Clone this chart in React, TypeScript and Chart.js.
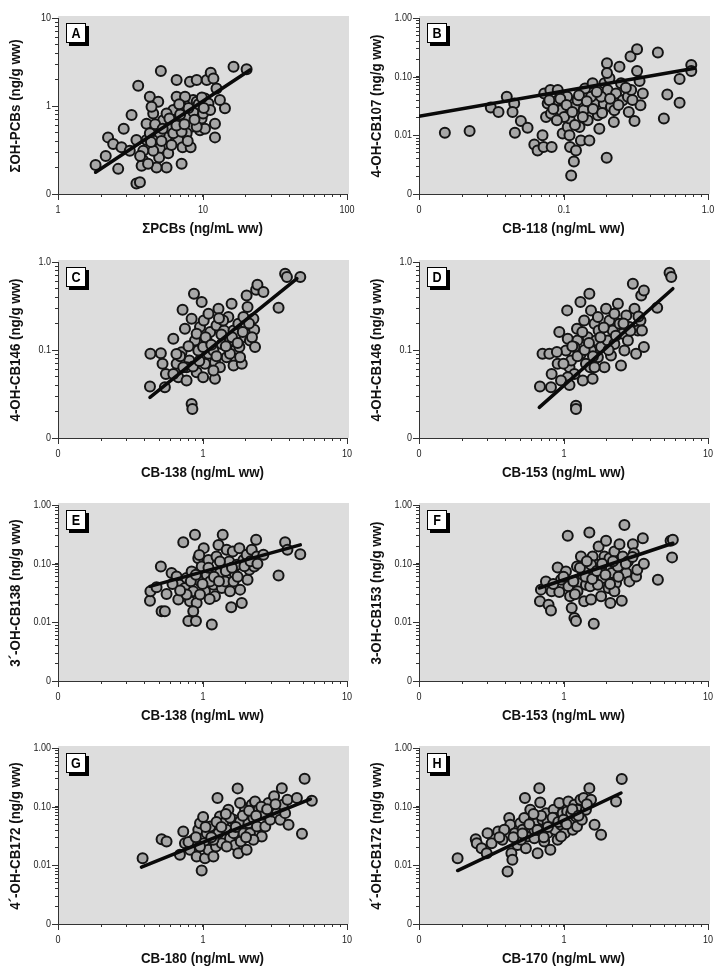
import { useEffect, useRef } from "react";
import { Chart, registerables } from "chart.js";

Chart.register(...registerables);

const FONT = '"Liberation Sans", Arial, Helvetica, sans-serif';

// ---------- data (x, y) ----------
const aPoints = [[1.82,0.214],[2.61,0.193],[2.22,0.44],[2.41,0.37],[2.14,0.27],[2.85,0.55],[2.75,0.34],[3.23,0.79],[3.59,1.70],[3.49,0.132],[3.69,0.136],[3.89,0.24],[3.79,0.21],[4.10,0.41],[4.32,1.27],[4.56,0.82],[4.94,1.12],[5.15,2.5],[4.81,0.53],[5.07,0.33],[5.01,0.26],[5.35,0.69],[5.64,0.44],[5.79,0.29],[6.28,0.90],[5.95,0.58],[6.62,1.97],[6.62,1.27],[6.80,0.41],[7.17,0.22],[7.28,0.34],[6.98,0.63],[7.17,0.98],[7.77,0.75],[8.19,1.89],[8.28,0.34],[8.41,0.58],[8.63,1.17],[9.12,1.97],[9.61,0.90],[9.86,0.72],[9.61,0.53],[10.4,0.55],[10.7,1.97],[10.4,1.22],[11.0,1.07],[11.4,2.39],[11.9,2.06],[12.2,0.63],[12.2,0.44],[12.5,1.58],[14.3,0.94],[16.4,2.8],[20.2,2.61],[4.44,0.98],[4.10,0.63],[4.32,0.49],[4.56,0.31],[5.64,0.82],[6.28,0.49],[7.77,0.49],[7.57,1.27],[9.12,0.58],[10.1,0.82],[5.64,0.20],[3.89,0.31],[3.49,0.41],[3.14,0.31],[5.07,0.49],[6.45,0.69],[8.63,0.86],[11.3,0.90],[13.2,1.17],[7.17,0.51],[4.81,0.20],[9.12,1.12],[4.7,0.62],[5.3,0.55],[5.9,0.72],[6.6,0.60],[7.0,0.80],[7.5,0.62],[8.0,0.95],[8.8,0.70],[9.4,1.05],[10.2,0.95],[5.2,0.40],[6.1,0.36],[7.9,0.40],[4.4,0.39],[6.9,1.05],[9.9,1.25],[3.7,0.27],[4.2,0.22]];
const aLine = [[1.82,0.177],[21.3,2.57]];

const bPoints = [[0.0151,0.0111],[0.0224,0.0119],[0.0314,0.0298],[0.0355,0.0251],[0.0405,0.0454],[0.0456,0.0349],[0.0444,0.0251],[0.0461,0.0111],[0.0507,0.0176],[0.0564,0.0135],[0.0628,0.00701],[0.0662,0.00553],[0.0716,0.01],[0.0728,0.0063],[0.0736,0.0518],[0.0777,0.0349],[0.0811,0.0591],[0.0828,0.0063],[0.0757,0.0206],[0.0819,0.0235],[0.0912,0.0591],[0.0962,0.0268],[0.0987,0.0107],[0.106,0.0454],[0.107,0.0139],[0.110,0.01],[0.111,0.0063],[0.113,0.00206],[0.118,0.00358],[0.122,0.00553],[0.119,0.0306],[0.110,0.0193],[0.125,0.0398],[0.129,0.0139],[0.132,0.0082],[0.138,0.0268],[0.141,0.0631],[0.147,0.0181],[0.151,0.0082],[0.159,0.0769],[0.164,0.0349],[0.173,0.022],[0.177,0.013],[0.190,0.0349],[0.192,0.0769],[0.199,0.00414],[0.200,0.169],[0.208,0.0936],[0.202,0.0591],[0.213,0.0306],[0.223,0.0169],[0.231,0.0518],[0.244,0.148],[0.250,0.0769],[0.257,0.0398],[0.279,0.0454],[0.283,0.0251],[0.291,0.220],[0.294,0.0591],[0.310,0.0176],[0.323,0.294],[0.323,0.125],[0.336,0.0843],[0.341,0.0327],[0.354,0.0518],[0.450,0.258],[0.495,0.0193],[0.523,0.0498],[0.636,0.0358],[0.636,0.0912],[0.766,0.158],[0.766,0.125],[0.0912,0.0398],[0.101,0.0206],[0.155,0.0454],[0.182,0.0454],[0.225,0.0268],[0.0798,0.0398],[0.136,0.0206],[0.085,0.028],[0.095,0.042],[0.105,0.033],[0.115,0.025],[0.128,0.048],[0.145,0.038],[0.16,0.028],[0.17,0.055],[0.185,0.024],[0.21,0.042],[0.24,0.033],[0.27,0.065],[0.30,0.04],[0.12,0.015],[0.09,0.018],[0.2,0.115]];
const bLine = [[0.01,0.0212],[0.809,0.139]];

const cPoints = [[0.433,0.0384],[0.436,0.0904],[0.515,0.092],[0.529,0.0696],[0.549,0.0377],[0.558,0.0535],[0.628,0.134],[0.662,0.0696],[0.680,0.0491],[0.728,0.287],[0.756,0.174],[0.716,0.0944],[0.776,0.045],[0.811,0.0759],[0.841,0.226],[0.841,0.0244],[0.851,0.0214],[0.873,0.436],[0.887,0.128],[0.911,0.056],[0.935,0.0987],[0.961,0.182],[0.987,0.351],[1.01,0.0491],[1.02,0.217],[1.04,0.0696],[1.07,0.128],[1.10,0.0904],[1.13,0.160],[1.19,0.0987],[1.22,0.047],[1.22,0.0727],[1.25,0.190],[1.29,0.294],[1.32,0.0638],[1.36,0.117],[1.41,0.167],[1.47,0.0828],[1.51,0.237],[1.55,0.128],[1.59,0.336],[1.64,0.167],[1.68,0.0987],[1.64,0.0666],[1.73,0.153],[1.77,0.199],[1.80,0.108],[1.87,0.0696],[1.92,0.237],[1.97,0.140],[2.00,0.190],[2.05,0.308],[2.02,0.417],[2.13,0.128],[2.25,0.226],[2.28,0.170],[2.31,0.108],[2.35,0.484],[2.40,0.552],[2.64,0.455],[3.36,0.302],[3.73,0.736],[3.84,0.675],[4.75,0.675],[1.01,0.108],[0.776,0.0638],[0.628,0.0535],[1.19,0.0585],[1.55,0.0904],[1.82,0.0828],[0.911,0.153],[1.39,0.217],[0.736,0.0638],[1.10,0.258],[0.70,0.085],[0.80,0.11],[0.86,0.065],[0.95,0.075],[1.05,0.14],[1.15,0.115],[1.25,0.085],[1.35,0.15],[1.45,0.11],[1.6,0.14],[1.75,0.12],[1.9,0.16],[2.1,0.2],[2.2,0.14],[1.3,0.23],[0.66,0.09]];
const cLine = [[0.433,0.029],[4.50,0.646]];

const dPoints = [[0.687,0.0384],[0.716,0.0904],[0.798,0.0904],[0.819,0.0377],[0.828,0.0535],[0.911,0.0696],[0.935,0.160],[1.04,0.0987],[1.06,0.282],[1.07,0.134],[1.10,0.0638],[1.13,0.0759],[1.19,0.0535],[1.22,0.0233],[1.24,0.174],[1.22,0.0214],[1.31,0.351],[1.32,0.0904],[1.36,0.045],[1.39,0.217],[1.43,0.0696],[1.47,0.140],[1.51,0.436],[1.53,0.0638],[1.55,0.0987],[1.59,0.047],[1.64,0.199],[1.68,0.128],[1.73,0.0828],[1.75,0.167],[1.82,0.108],[1.92,0.0638],[1.97,0.294],[2.02,0.128],[2.08,0.217],[2.13,0.0865],[2.19,0.167],[2.25,0.117],[2.38,0.336],[2.44,0.199],[2.50,0.0666],[2.57,0.153],[2.64,0.0987],[2.72,0.247],[2.79,0.128],[3.02,0.567],[3.10,0.294],[3.18,0.0904],[3.27,0.167],[3.41,0.217],[3.45,0.417],[3.60,0.475],[3.49,0.167],[3.60,0.108],[4.45,0.302],[5.42,0.756],[5.57,0.675],[1.25,0.128],[1.64,0.0638],[1.07,0.0491],[0.961,0.045],[2.25,0.258],[1.55,0.282],[1.73,0.237],[1.19,0.108],[2.86,0.182],[0.9,0.095],[1.0,0.07],[1.15,0.11],[1.25,0.085],[1.4,0.1],[1.5,0.12],[1.6,0.085],[1.8,0.14],[1.9,0.18],[2.05,0.1],[2.3,0.145],[2.6,0.2],[2.9,0.165],[3.3,0.24],[1.35,0.16],[1.1,0.04]];
const dLine = [[0.680,0.0223],[5.71,0.497]];

const ePoints = [[0.433,0.0234],[0.436,0.0338],[0.481,0.0395],[0.515,0.0898],[0.521,0.0155],[0.549,0.0155],[0.564,0.0304],[0.611,0.0692],[0.662,0.0607],[0.680,0.0244],[0.698,0.0438],[0.736,0.232],[0.756,0.0385],[0.776,0.0569],[0.798,0.0105],[0.819,0.0229],[0.841,0.0738],[0.863,0.0338],[0.887,0.310],[0.901,0.0105],[0.911,0.0214],[0.935,0.124],[0.961,0.0499],[0.987,0.0898],[1.02,0.184],[1.04,0.0338],[1.07,0.0649],[1.10,0.116],[1.16,0.00918],[1.19,0.0438],[1.22,0.0278],[1.25,0.133],[1.29,0.209],[1.32,0.0692],[1.36,0.0385],[1.38,0.310],[1.39,0.0958],[1.43,0.0499],[1.47,0.172],[1.53,0.109],[1.55,0.0338],[1.58,0.0181],[1.62,0.161],[1.68,0.0649],[1.73,0.0958],[1.80,0.184],[1.82,0.0361],[1.87,0.0214],[1.92,0.116],[2.02,0.142],[2.05,0.0533],[2.11,0.0787],[2.19,0.172],[2.28,0.0898],[2.35,0.255],[2.38,0.133],[2.64,0.142],[3.36,0.0631],[3.73,0.232],[3.87,0.172],[4.75,0.145],[0.961,0.0297],[1.13,0.0499],[1.64,0.0499],[0.776,0.0297],[1.32,0.109],[0.863,0.0155],[0.62,0.045],[0.7,0.035],[0.83,0.05],[0.9,0.065],[1.0,0.045],[1.1,0.085],[1.2,0.06],[1.3,0.05],[1.45,0.075],[1.6,0.085],[1.75,0.06],[1.95,0.09],[2.15,0.11],[2.4,0.1],[1.12,0.025],[0.95,0.14]];
const eLine = [[0.433,0.0411],[4.75,0.209]];

const fPoints = [[0.687,0.0229],[0.698,0.0361],[0.756,0.0499],[0.788,0.0200],[0.819,0.0159],[0.828,0.0338],[0.911,0.0863],[0.935,0.0329],[1.04,0.0738],[1.07,0.298],[1.08,0.0411],[1.11,0.0278],[1.14,0.0176],[1.19,0.0119],[1.22,0.0105],[1.24,0.0898],[1.29,0.0468],[1.32,0.133],[1.36,0.0649],[1.39,0.0229],[1.43,0.0438],[1.47,0.0787],[1.51,0.339],[1.53,0.0411],[1.55,0.0244],[1.59,0.133],[1.62,0.00942],[1.64,0.0649],[1.71,0.0958],[1.75,0.196],[1.82,0.0278],[1.87,0.0569],[1.92,0.133],[1.97,0.245],[2.00,0.0787],[2.05,0.0385],[2.08,0.124],[2.11,0.0214],[2.16,0.0692],[2.25,0.161],[2.31,0.0468],[2.38,0.0898],[2.44,0.215],[2.53,0.0234],[2.57,0.133],[2.64,0.457],[2.72,0.0692],[2.79,0.109],[2.86,0.0499],[3.02,0.215],[3.07,0.151],[3.18,0.0607],[3.24,0.0787],[3.54,0.272],[3.60,0.0996],[4.50,0.0533],[5.51,0.245],[5.71,0.255],[5.64,0.128],[1.25,0.0338],[1.73,0.0438],[1.55,0.0958],[2.25,0.0338],[0.961,0.0533],[1.82,0.0841],[0.85,0.045],[1.0,0.06],[1.17,0.05],[1.3,0.085],[1.42,0.06],[1.58,0.055],[1.7,0.075],[1.85,0.1],[1.95,0.065],[2.2,0.11],[2.4,0.06],[2.7,0.1],[3.0,0.13],[1.2,0.03],[1.45,0.11],[2.1,0.045]];
const fLine = [[0.680,0.0385],[5.71,0.223]];

const gPoints = [[0.385,0.0132],[0.521,0.0279],[0.564,0.0255],[0.698,0.0151],[0.736,0.0378],[0.756,0.0239],[0.819,0.0184],[0.863,0.0272],[0.911,0.0141],[0.935,0.0403],[0.961,0.0524],[0.987,0.00815],[1.01,0.0664],[1.02,0.0239],[1.04,0.0132],[1.07,0.0354],[1.10,0.0184],[1.13,0.0460],[1.19,0.0141],[1.24,0.0209],[1.27,0.140],[1.29,0.0354],[1.32,0.0681],[1.36,0.0239],[1.39,0.0524],[1.47,0.0403],[1.51,0.0885],[1.55,0.0290],[1.64,0.0597],[1.68,0.0223],[1.75,0.205],[1.77,0.0161],[1.82,0.0560],[1.84,0.0255],[1.92,0.0354],[1.97,0.0885],[2.02,0.0184],[2.08,0.0524],[2.13,0.0354],[2.19,0.108],[2.25,0.0638],[2.31,0.123],[2.38,0.0460],[2.44,0.0885],[2.57,0.0310],[2.64,0.0727],[2.72,0.0460],[2.86,0.115],[2.94,0.0597],[3.02,0.0829],[3.13,0.150],[3.27,0.0776],[3.45,0.0597],[3.54,0.207],[3.60,0.108],[3.73,0.0776],[3.87,0.131],[3.94,0.0491],[4.50,0.140],[4.88,0.0344],[5.09,0.299],[5.71,0.126],[1.19,0.0272],[1.64,0.0354],[0.961,0.0209],[2.25,0.0272],[1.82,0.115],[1.47,0.0209],[0.8,0.025],[0.9,0.03],[1.05,0.045],[1.15,0.03],[1.25,0.055],[1.35,0.045],[1.55,0.065],[1.7,0.045],[1.9,0.07],[2.1,0.085],[2.35,0.07],[2.55,0.1],[2.8,0.09],[3.2,0.11],[1.45,0.075],[2.0,0.03]];
const gLine = [[0.378,0.00929],[5.57,0.135]];

const hPoints = [[0.185,0.0132],[0.247,0.0279],[0.251,0.0239],[0.271,0.0196],[0.294,0.0161],[0.298,0.0354],[0.318,0.0239],[0.353,0.0378],[0.378,0.0272],[0.410,0.00783],[0.421,0.0638],[0.428,0.0491],[0.436,0.0161],[0.443,0.0124],[0.461,0.0354],[0.481,0.0223],[0.502,0.0524],[0.521,0.0403],[0.535,0.0638],[0.541,0.140],[0.549,0.0196],[0.564,0.0310],[0.589,0.0885],[0.601,0.0431],[0.621,0.0597],[0.628,0.0290],[0.645,0.0524],[0.662,0.0161],[0.680,0.207],[0.690,0.118],[0.698,0.0403],[0.716,0.0597],[0.736,0.0255],[0.756,0.0776],[0.776,0.0354],[0.811,0.0184],[0.828,0.0524],[0.855,0.0885],[0.873,0.0403],[0.887,0.0638],[0.911,0.0272],[0.935,0.115],[0.961,0.0491],[0.987,0.0776],[1.02,0.0354],[1.06,0.0829],[1.08,0.123],[1.11,0.0560],[1.16,0.0403],[1.19,0.108],[1.22,0.0681],[1.24,0.0460],[1.25,0.0885],[1.31,0.131],[1.34,0.0597],[1.38,0.140],[1.43,0.0885],[1.51,0.207],[1.55,0.131],[1.64,0.0491],[1.82,0.0331],[2.31,0.123],[2.53,0.296],[0.776,0.0560],[0.961,0.0310],[0.628,0.0403],[0.507,0.0272],[0.389,0.0403],[1.13,0.0776],[0.36,0.03],[0.45,0.03],[0.52,0.035],[0.58,0.05],[0.66,0.04],[0.7,0.07],[0.78,0.045],[0.84,0.065],[0.92,0.055],[1.0,0.06],[1.05,0.05],[1.15,0.09],[1.27,0.07],[0.62,0.075],[0.73,0.03],[1.45,0.11]];
const hLine = [[0.185,0.00815],[2.50,0.171]];

// tick labels per decade (lowest decade first)
const xTicksA = ["1", "10", "100"];
const yTicksA = ["0", "1", "10"];
const xTicksB = ["0", "0.1", "1.0"];
const yTicksB = ["0", "0.01", "0.10", "1.00"];
const xTicksCD = ["0", "1", "10"];
const yTicksCD = ["0", "0.1", "1.0"];
const xTicksEH = ["0", "1", "10"];
const yTicksEH = ["0", "0.01", "0.10", "1.00"];

const letters = ["A", "B", "C", "D", "E", "F", "G", "H"];
const xTitles = [
  "\u03A3PCBs (ng/mL ww)", "CB-118 (ng/mL ww)",
  "CB-138 (ng/mL ww)", "CB-153 (ng/mL ww)",
  "CB-138 (ng/mL ww)", "CB-153 (ng/mL ww)",
  "CB-180 (ng/mL ww)", "CB-170 (ng/mL ww)",
];
const yTitles = [
  "\u03A3OH-PCBs (ng/g ww)", "4-OH-CB107 (ng/g ww)",
  "4-OH-CB146 (ng/g ww)", "4-OH-CB146 (ng/g ww)",
  "3\u00B4-OH-CB138 (ng/g ww)", "3-OH-CB153 (ng/g ww)",
  "4\u00B4-OH-CB172 (ng/g ww)", "4\u00B4-OH-CB172 (ng/g ww)",
];

type Panel = {
  letter: string;
  points: number[][];
  line: number[][];
  xExp: [number, number];
  yExp: [number, number];
  xTicks: string[];
  yTicks: string[];
  xTitle: string;
  yTitle: string;
  left: number;
  top: number;
};

const ROW_TOPS = [0, 244, 487, 730];
const COL_LEFTS = [0, 361];
const CW = 361;
const CH = 244;

const panels: Panel[] = [
  { points: aPoints, line: aLine, xExp: [0, 2], yExp: [-1, 1], xTicks: xTicksA, yTicks: yTicksA },
  { points: bPoints, line: bLine, xExp: [-2, 0], yExp: [-3, 0], xTicks: xTicksB, yTicks: yTicksB },
  { points: cPoints, line: cLine, xExp: [-1, 1], yExp: [-2, 0], xTicks: xTicksCD, yTicks: yTicksCD },
  { points: dPoints, line: dLine, xExp: [-1, 1], yExp: [-2, 0], xTicks: xTicksCD, yTicks: yTicksCD },
  { points: ePoints, line: eLine, xExp: [-1, 1], yExp: [-3, 0], xTicks: xTicksEH, yTicks: yTicksEH },
  { points: fPoints, line: fLine, xExp: [-1, 1], yExp: [-3, 0], xTicks: xTicksEH, yTicks: yTicksEH },
  { points: gPoints, line: gLine, xExp: [-1, 1], yExp: [-3, 0], xTicks: xTicksEH, yTicks: yTicksEH },
  { points: hPoints, line: hLine, xExp: [-1, 1], yExp: [-3, 0], xTicks: xTicksEH, yTicks: yTicksEH },
].map((p, i) => ({
  ...p,
  letter: letters[i],
  xTitle: xTitles[i],
  yTitle: yTitles[i],
  left: COL_LEFTS[i % 2],
  top: ROW_TOPS[Math.floor(i / 2)],
})) as Panel[];

function logTicks(lo: number, hi: number) {
  const t: { value: number }[] = [];
  for (let e = lo; e < hi; e++) {
    for (let m = 1; m < 10; m++) t.push({ value: m * Math.pow(10, e) });
  }
  t.push({ value: Math.pow(10, hi) });
  return t;
}

function drawText(ctx: CanvasRenderingContext2D, text: string, x: number, y: number, sx: number, align: CanvasTextAlign, rot: number) {
  ctx.save();
  ctx.translate(x, y);
  if (rot) ctx.rotate(rot);
  ctx.scale(sx, 1);
  ctx.textAlign = align;
  ctx.textBaseline = "middle";
  ctx.fillText(text, 0, 0);
  ctx.restore();
}

const bgPlugin = {
  id: "plotBg",
  beforeDraw(chart: any) {
    const { ctx, chartArea } = chart;
    ctx.save();
    ctx.fillStyle = "#dddddd";
    ctx.fillRect(chartArea.left, chartArea.top - 2, chartArea.right - chartArea.left + 2, chartArea.bottom - chartArea.top + 2);
    ctx.restore();
  },
};

const axisTextPlugin = {
  id: "axisText",
  afterDraw(chart: any, _args: any, opts: any) {
    const p: Panel = opts.panel;
    const { ctx, chartArea, scales } = chart;
    ctx.save();
    ctx.fillStyle = "#1a1a1a";
    ctx.strokeStyle = "#333";
    ctx.lineWidth = 1;
    // tick labels + longer major ticks
    ctx.font = `11px ${FONT}`;
    for (let e = p.xExp[0]; e <= p.xExp[1]; e++) {
      const px = Math.round(scales.x.getPixelForValue(Math.pow(10, e)));
      ctx.beginPath();
      ctx.moveTo(px + 0.5, chartArea.bottom);
      ctx.lineTo(px + 0.5, chartArea.bottom + 6);
      ctx.stroke();
      drawText(ctx, p.xTicks[e - p.xExp[0]], px, chartArea.bottom + 16, 0.82, "center", 0);
    }
    for (let e = p.yExp[0]; e <= p.yExp[1]; e++) {
      const py = Math.round(scales.y.getPixelForValue(Math.pow(10, e)));
      ctx.beginPath();
      ctx.moveTo(chartArea.left, py + 0.5);
      ctx.lineTo(chartArea.left - 6, py + 0.5);
      ctx.stroke();
      drawText(ctx, p.yTicks[e - p.yExp[0]], chartArea.left - 7, py, 0.82, "right", 0);
    }
    // axis titles
    ctx.fillStyle = "#111";
    ctx.font = `bold 14.5px ${FONT}`;
    drawText(ctx, p.xTitle, (chartArea.left + chartArea.right) / 2, chartArea.bottom + 35, 0.92, "center", 0);
    drawText(ctx, p.yTitle, 15.5, (chartArea.top + chartArea.bottom) / 2, 0.92, "center", -Math.PI / 2);
    // panel letter box
    const s = 20;
    const bx = chartArea.left + 8;
    const by = chartArea.top + 5;
    ctx.fillStyle = "#000";
    ctx.fillRect(bx + 3, by + 3, s, s);
    ctx.fillStyle = "#fff";
    ctx.fillRect(bx, by, s, s);
    ctx.strokeStyle = "#000";
    ctx.strokeRect(bx + 0.5, by + 0.5, s - 1, s - 1);
    ctx.fillStyle = "#000";
    ctx.font = `bold 14px ${FONT}`;
    drawText(ctx, p.letter, bx + s / 2, by + s / 2 + 1, 0.9, "center", 0);
    ctx.restore();
  },
};

function makeConfig(p: Panel): any {
  const axisColor = "#333";
  return {
    type: "scatter",
    data: {
      datasets: [
        {
          label: "fit",
          data: p.line.map(([x, y]) => ({ x, y })),
          showLine: true,
          borderColor: "#0a0a0a",
          borderWidth: 3.5,
          pointRadius: 0,
          borderCapStyle: "round",
        },
        {
          label: "samples",
          data: p.points.map(([x, y]) => ({ x, y })),
          backgroundColor: "#a7a7a7",
          borderColor: "#141414",
          borderWidth: 2,
          pointRadius: 5,
        },
      ],
    },
    options: {
      animation: false,
      responsive: false,
      devicePixelRatio: 1,
      layout: { padding: { top: 18, right: 14, left: 0, bottom: 0 } },
      plugins: {
        legend: { display: false },
        tooltip: { enabled: false },
        axisText: { panel: p },
      },
      scales: {
        x: {
          type: "logarithmic",
          min: Math.pow(10, p.xExp[0]),
          max: Math.pow(10, p.xExp[1]),
          afterBuildTicks: (s: any) => { s.ticks = logTicks(p.xExp[0], p.xExp[1]); },
          afterFit: (s: any) => { s.height = 50; },
          ticks: { display: false, autoSkip: false },
          grid: { drawOnChartArea: false, drawTicks: true, tickLength: 3, color: axisColor },
          border: { display: true, color: axisColor, width: 1 },
          title: { display: false },
        },
        y: {
          type: "logarithmic",
          min: Math.pow(10, p.yExp[0]),
          max: Math.pow(10, p.yExp[1]),
          afterBuildTicks: (s: any) => { s.ticks = logTicks(p.yExp[0], p.yExp[1]); },
          afterFit: (s: any) => { s.width = 58; },
          ticks: { display: false, autoSkip: false },
          grid: { drawOnChartArea: false, drawTicks: true, tickLength: 3, color: axisColor },
          border: { display: true, color: axisColor, width: 1 },
          title: { display: false },
        },
      },
    },
    plugins: [bgPlugin, axisTextPlugin],
  };
}

function PanelChart({ p }: { p: Panel }) {
  const ref = useRef<HTMLCanvasElement | null>(null);
  useEffect(() => {
    if (!ref.current) return;
    const chart = new Chart(ref.current, makeConfig(p));
    return () => chart.destroy();
  }, [p]);
  return (
    <canvas
      ref={ref}
      width={CW}
      height={CH}
      style={{ position: "absolute", left: p.left, top: p.top, width: CW, height: CH, display: "block" }}
    />
  );
}

export default function App() {
  return (
    <div style={{ position: "absolute", left: 0, top: 0, width: 722, height: 972, overflow: "hidden", background: "#fff" }}>
      {panels.map((p) => (
        <PanelChart key={p.letter} p={p} />
      ))}
    </div>
  );
}
